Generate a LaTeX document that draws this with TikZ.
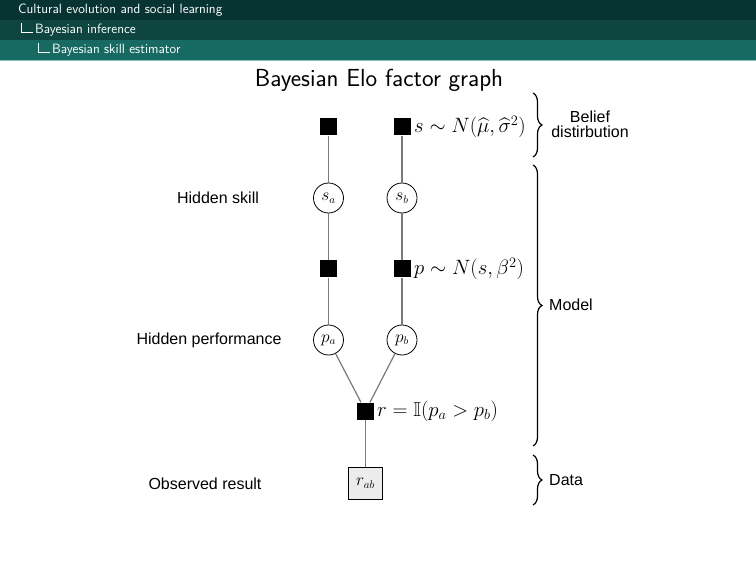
\documentclass[tikz,border=0pt]{standalone}
\usepackage{amsmath,amssymb}
\usepackage{fontspec}
\newfontfamily\lab{Liberation Sans}
\usetikzlibrary{decorations.pathreplacing}
\definecolor{hdrA}{HTML}{073432}
\definecolor{hdrB}{HTML}{0E4540}
\definecolor{hdrC}{HTML}{166A62}
\definecolor{hdrLine}{HTML}{8CC4BE}
\definecolor{edgegray}{HTML}{7A7A7A}
\begin{document}
\begin{tikzpicture}[x=1pt,y=-1pt,
  factor/.style={fill=black, minimum size=17pt, inner sep=0pt},
  var/.style={circle, draw, line width=0.8pt, minimum size=30pt, inner sep=0pt, font=\fontsize{16}{18}\selectfont},
  obs/.style={draw, line width=0.8pt, fill=gray!15, minimum width=34pt, minimum height=32pt, inner sep=0pt, font=\fontsize{16}{18}\selectfont},
  edge/.style={draw=edgegray, line width=1.2pt},
  mathlab/.style={anchor=west, inner sep=0pt, font=\fontsize{20}{22}\selectfont},
  sidelab/.style={inner sep=0pt, font=\lab\fontsize{16}{18}\selectfont},
  hdr/.style={anchor=west, inner sep=0pt, text=white, font=\sffamily\fontsize{13.5}{15}\selectfont},
  bracestyle/.style={decorate, decoration={brace, amplitude=9pt}, line width=1.2pt}
]
\useasboundingbox (0,0) rectangle (756,567);
\fill[white] (0,0) rectangle (756,567);
% header
\fill[hdrA] (0,0) rectangle (756,20);
\fill[hdrB] (0,20) rectangle (756,40);
\fill[hdrC] (0,40) rectangle (756,60);
\fill[hdrLine] (0,60) rectangle (756,61.5);
\node[hdr] (h1) at (18,10) {Cultural evolution and social learning};
\node[hdr] (h2) at (35,30) {Bayesian inference};
\node[hdr] (h3) at (52,50) {Bayesian skill estimator};
\draw[white, line width=0.8pt] (21.5,23) -- (21.5,32) -- (33,32);
\draw[white, line width=0.8pt] (38.5,43) -- (38.5,52) -- (50,52);
% title
\node[inner sep=0pt, font=\sffamily\fontsize{24.7}{28}\selectfont] (title) at (379,80) {Bayesian Elo factor graph};
% graph nodes
\node[factor] (fa) at (328.5,127) {};
\node[factor] (fb) at (402,127) {};
\node[var] (sa) at (328.5,198) {$s_a$};
\node[var] (sb) at (402,198) {$s_b$};
\node[factor] (ga) at (328.5,269) {};
\node[factor] (gb) at (402,269) {};
\node[var] (pa) at (328.5,340) {$p_a$};
\node[var] (pb) at (402,340) {$p_b$};
\node[factor] (r) at (365.5,411) {};
\node[obs] (rab) at (365.5,483) {$r_{ab}$};
% edges
\draw[edge] (fa) -- (sa);
\draw[edge] (fb) -- (sb);
\draw[edge] (sa) -- (ga);
\draw[edge] (sb) -- (gb);
\draw[edge] (ga) -- (pa);
\draw[edge] (gb) -- (pb);
\draw[edge] (pa) -- (r);
\draw[edge] (pb) -- (r);
\draw[edge] (r) -- (rab);
% math labels
\node[mathlab] (lf) at (414,127) {$s\sim N(\widehat{\mu},\widehat{\sigma}^2)$};
\node[mathlab] (lg) at (414,269) {$p\sim N(s,\beta^2)$};
\node[mathlab] (lr) at (377,411) {$r=\mathbb{I}(p_a>p_b)$};
% left labels
\node[sidelab] (ls) at (218,198) {Hidden skill};
\node[sidelab] (lp) at (209,340) {Hidden performance};
\node[sidelab] (lo) at (205,484) {Observed result};
% braces
\coordinate (b1t) at (533,93);
\coordinate (b1b) at (533,157);
\coordinate (b2t) at (533,165);
\coordinate (b2b) at (533,446);
\coordinate (b3t) at (533,455);
\coordinate (b3b) at (533,505);
\draw[bracestyle] (b1t) -- (b1b);
\draw[bracestyle] (b2t) -- (b2b);
\draw[bracestyle] (b3t) -- (b3b);
\node[sidelab] (bl1) at (590,117) {Belief};
\node[sidelab] (bl2) at (590,132) {distirbution};
\node[sidelab, anchor=west] (bl3) at (549,305) {Model};
\node[sidelab, anchor=west] (bl4) at (549,480) {Data};
\end{tikzpicture}
\end{document}
